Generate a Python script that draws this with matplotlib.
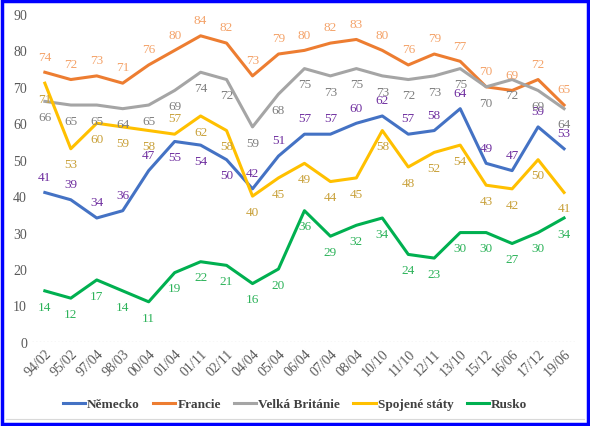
import numpy as np
import matplotlib.pyplot as plt
from matplotlib.patches import Rectangle
from matplotlib.lines import Line2D

labels = ['94/02', '95/02', '97/04', '98/03', '00/04', '01/04', '01/11', '02/11',
          '04/04', '05/04', '06/04', '07/04', '08/04', '10/10', '11/10', '12/11',
          '13/10', '15/12', '16/06', '17/12', '19/06']

nemecko = [41, 39, 34, 36, 47, 55, 54, 50, 42, 51, 57, 57, 60, 62, 57, 58, 64, 49, 47, 59, 53]
francie = [74, 72, 73, 71, 76, 80, 84, 82, 73, 79, 80, 82, 83, 80, 76, 79, 77, 70, 69, 72, 65]
britanie = [66, 65, 65, 64, 65, 69, 74, 72, 59, 68, 75, 73, 75, 73, 72, 73, 75, 70, 72, 69, 64]
usa = [71, 53, 60, 59, 58, 57, 62, 58, 40, 45, 49, 44, 45, 58, 48, 52, 54, 43, 42, 50, 41]
rusko = [14, 12, 17, 14, 11, 19, 22, 21, 16, 20, 36, 29, 32, 34, 24, 23, 30, 30, 27, 30, 34]

# label side: 1 = above the point, -1 = below
n = len(labels)
side_nem = [1] * n
side_nem[5] = side_nem[6] = side_nem[7] = -1
side_usa = [-1] * n
side_usa[5] = 1

series = [
    ('Německo', nemecko, '#4472C4', '#7030A0', side_nem),
    ('Francie', francie, '#ED7D31', '#F4A36A', [1] * n),
    ('Velká Británie', britanie, '#A5A5A5', '#7F7F7F', [-1] * n),
    ('Spojené státy', usa, '#FFC000', '#C9A13A', side_usa),
    ('Rusko', rusko, '#00B050', '#2DB35A', [-1] * n),
]

plt.rcParams['font.family'] = ['Liberation Serif', 'DejaVu Serif']

fig, ax = plt.subplots(figsize=(5.9, 4.27), dpi=100)
fig.subplots_adjust(left=0.054, right=0.978, top=0.965, bottom=0.197)
x = np.arange(n)

for name, vals, col, lcol, sides in series:
    ax.plot(x, vals, color=col, lw=2.2, label=name)
    for xi, v, s in zip(x, vals, sides):
        ax.annotate(str(v), (xi, v), xytext=(0, 7 * s), textcoords='offset points',
                    ha='center', va='bottom' if s > 0 else 'top',
                    color=lcol, fontsize=9.5)

ax.set_ylim(0, 90)
ax.set_yticks(range(0, 91, 10))
ax.set_xlim(-0.5, n - 0.5)
ax.set_xticks(x)
ax.set_xticklabels(labels, rotation=45, ha='right', rotation_mode='anchor')
ax.tick_params(axis='both', length=0, labelsize=10, colors='#595959')
for s in ax.spines.values():
    s.set_visible(False)
ax.axhline(0, color='#D9D9D9', lw=1, ls=':')

ax.legend(loc='center', bbox_to_anchor=(0.5, (427 - 405) / 427), bbox_transform=fig.transFigure,
          ncol=5, frameon=False,
          prop={'weight': 'bold', 'size': 9.5}, handlelength=1.7, columnspacing=1.0,
          handletextpad=0.15, labelcolor='#404040')

fig.add_artist(Line2D([0.01, 0.99], [7 / 427, 7 / 427], transform=fig.transFigure,
                      color='#D9D9D9', lw=0.8))
fig.patches.append(Rectangle((0.003, 0.004), 0.994, 0.992, transform=fig.transFigure,
                             fill=False, edgecolor='#0000FF', lw=2.5))

fig.savefig('out.png', dpi=100)
